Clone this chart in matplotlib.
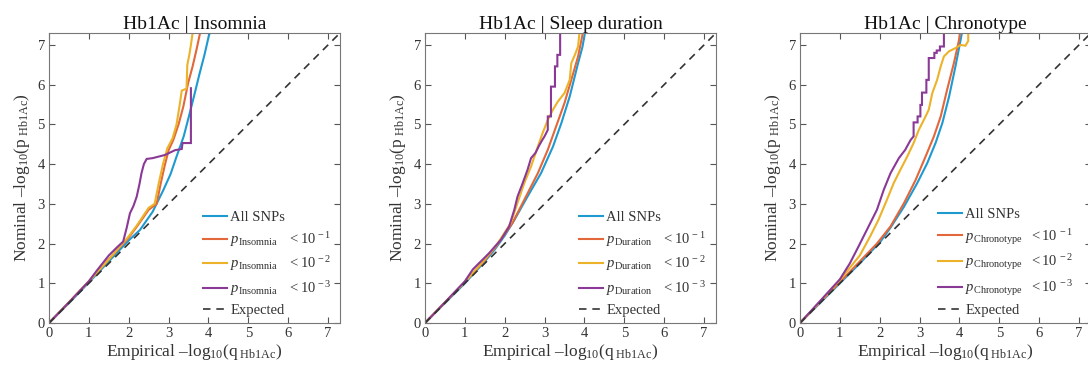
import matplotlib
matplotlib.use("Agg")
import matplotlib.pyplot as plt

plt.rcParams['font.family'] = ['Liberation Serif', 'DejaVu Serif']
plt.rcParams['mathtext.fontset'] = 'custom'
plt.rcParams['mathtext.rm'] = 'Liberation Serif'
plt.rcParams['mathtext.it'] = 'Liberation Serif:italic'
plt.rcParams['mathtext.bf'] = 'Liberation Serif:bold'

# ---------------- data ----------------
titles = ["Hb1Ac | Insomnia", "Hb1Ac | Sleep duration", "Hb1Ac | Chronotype"]
traits = ["Insomnia", "Duration", "Chronotype"]
ticks = [0, 1, 2, 3, 4, 5, 6, 7]
expected = [0, 7.3]

# Panel 1: Insomnia
ins_all_x = [0, 0.5, 1.0, 1.5, 2.0, 2.28, 2.6, 2.87, 3.05, 3.2, 3.38, 3.53, 3.66, 3.78, 3.9, 4.01, 4.05]
ins_all_y = [0, 0.5, 1.02, 1.55, 2.08, 2.34, 2.8, 3.35, 3.75, 4.19, 4.7, 5.28, 5.8, 6.29, 6.75, 7.23, 7.35]
ins_p1_x = [0, 0.5, 1.0, 1.5, 2.0, 2.2, 2.5, 2.7, 2.8, 2.9, 3.0, 3.12, 3.25, 3.37, 3.49, 3.6, 3.7, 3.8]
ins_p1_y = [0, 0.52, 1.05, 1.6, 2.15, 2.42, 2.85, 3.0, 3.5, 3.95, 4.35, 4.61, 5.0, 5.45, 6.04, 6.45, 6.88, 7.35]
ins_p2_x = [0, 0.5, 1.0, 1.5, 2.0, 2.2, 2.5, 2.65, 2.75, 2.86, 2.97, 3.1, 3.2, 3.28, 3.33, 3.45, 3.47, 3.52, 3.56, 3.61]
ins_p2_y = [0, 0.52, 1.05, 1.6, 2.18, 2.45, 2.9, 3.0, 3.5, 4.0, 4.4, 4.65, 5.0, 5.5, 5.85, 5.9, 6.5, 6.75, 7.0, 7.35]
ins_p3_x = [0, 0.5, 1.0, 1.2, 1.5, 1.7, 1.86, 1.95, 2.03, 2.12, 2.2, 2.27, 2.32, 2.38, 2.45, 2.6, 2.91,
            3.16, 3.33, 3.35, 3.56, 3.56]
ins_p3_y = [0, 0.52, 1.05, 1.32, 1.7, 1.9, 2.05, 2.4, 2.76, 2.95, 3.18, 3.5, 3.77, 4.0, 4.13, 4.15, 4.23,
            4.35, 4.38, 4.53, 4.53, 5.91]

# Panel 2: Sleep duration
dur_all_x = [0, 0.5, 1.0, 1.5, 1.75, 2.0, 2.24, 2.57, 2.91, 3.21, 3.42, 3.63, 3.84, 3.95, 4.02]
dur_all_y = [0, 0.5, 1.0, 1.55, 1.85, 2.2, 2.59, 3.18, 3.77, 4.44, 5.03, 5.7, 6.54, 6.95, 7.35]
dur_p1_x = [0, 0.5, 1.0, 1.5, 1.8, 2.19, 2.49, 2.83, 3.08, 3.29, 3.5, 3.67, 3.84, 3.97]
dur_p1_y = [0, 0.52, 1.03, 1.58, 1.95, 2.51, 3.1, 3.77, 4.36, 4.95, 5.54, 6.12, 6.71, 7.35]
dur_p2_x = [0, 1.0, 1.5, 1.8, 2.15, 2.32, 2.49, 2.66, 2.83, 2.95, 3.08, 3.21, 3.33, 3.5, 3.63, 3.67, 3.76,
            3.84, 3.88]
dur_p2_y = [0, 1.03, 1.6, 1.97, 2.51, 3.02, 3.52, 3.94, 4.44, 4.78, 5.11, 5.37, 5.57, 5.79, 6.12, 6.54, 6.75,
            6.96, 7.35]
dur_p3_x = [0, 0.5, 1.0, 1.2, 1.4, 1.6, 1.9, 2.11, 2.24, 2.32, 2.45, 2.57, 2.66, 2.77, 2.87, 2.95, 3.0,
            3.08, 3.08, 3.16, 3.16, 3.26, 3.26, 3.32, 3.32, 3.39, 3.39]
dur_p3_y = [0, 0.52, 1.05, 1.35, 1.55, 1.75, 2.09, 2.43, 2.85, 3.18, 3.52, 3.85, 4.15, 4.28, 4.48, 4.62, 4.7,
            4.86, 5.2, 5.2, 5.95, 5.95, 6.46, 6.46, 6.75, 6.75, 7.35]

# Panel 3: Chronotype
chr_all_x = [0, 0.5, 1.0, 1.5, 2.02, 2.27, 2.61, 2.94, 3.19, 3.4, 3.57, 3.74, 3.9, 4.03, 4.07]
chr_all_y = [0, 0.5, 1.0, 1.5, 2.05, 2.4, 2.93, 3.52, 4.02, 4.53, 5.03, 5.7, 6.46, 7.13, 7.35]
chr_p1_x = [0, 0.5, 1.0, 1.5, 1.93, 2.27, 2.61, 2.9, 3.15, 3.36, 3.53, 3.69, 3.86, 3.99, 4.02]
chr_p1_y = [0, 0.52, 1.03, 1.55, 2.0, 2.43, 3.02, 3.6, 4.19, 4.7, 5.2, 5.87, 6.54, 7.13, 7.35]
chr_p2_x = [0, 0.5, 1.0, 1.5, 1.76, 1.97, 2.18, 2.35, 2.52, 2.69, 2.85, 2.98, 3.15, 3.23, 3.32, 3.44, 3.53,
            3.61, 3.74, 3.9, 4.03, 4.15, 4.22, 4.22]
chr_p2_y = [0, 0.53, 1.08, 1.7, 2.18, 2.6, 3.1, 3.52, 3.86, 4.19, 4.53, 4.86, 5.2, 5.37, 5.79, 6.12, 6.46,
            6.71, 6.84, 6.92, 7.0, 6.98, 7.1, 7.35]
chr_p3_x = [0, 0.5, 1.0, 1.25, 1.47, 1.72, 1.93, 2.1, 2.27, 2.48, 2.64, 2.77, 2.85, 2.85, 2.95, 2.95, 3.02,
            3.02, 3.06, 3.06, 3.17, 3.17, 3.23, 3.23, 3.37, 3.37, 3.43, 3.43, 3.51, 3.51, 3.61, 3.61]
chr_p3_y = [0, 0.55, 1.1, 1.5, 1.93, 2.43, 2.85, 3.35, 3.77, 4.15, 4.36, 4.6, 4.7, 5.05, 5.05, 5.2, 5.2,
            5.49, 5.49, 5.8, 5.8, 6.12, 6.12, 6.67, 6.67, 6.8, 6.8, 6.86, 6.86, 6.96, 6.96, 7.35]

# ---------------- style ----------------
colors = ['#1f9ad0', '#e2673a', '#ecb22a', '#8a3996']
dark = '#333333'

panels = [
    [(ins_all_x, ins_all_y), (ins_p1_x, ins_p1_y), (ins_p2_x, ins_p2_y), (ins_p3_x, ins_p3_y)],
    [(dur_all_x, dur_all_y), (dur_p1_x, dur_p1_y), (dur_p2_x, dur_p2_y), (dur_p3_x, dur_p3_y)],
    [(chr_all_x, chr_all_y), (chr_p1_x, chr_p1_y), (chr_p2_x, chr_p2_y), (chr_p3_x, chr_p3_y)],
]

fig = plt.figure(figsize=(10.88, 3.69), dpi=100)
lefts = [49, 425, 800]
leg_x = [0.5, 0.5, 0.445]
gaps = ['   ', '   ', '  ']
W, H = 1088, 369
for i in range(3):
    ax = fig.add_axes([lefts[i] / W, (H - 323) / H, 291 / W, 290 / H])
    curves = panels[i]
    labels = ['All SNPs'] + [
        r'$p_{\mathrm{%s}}$%s$< 10^{\,-%d}$' % (traits[i], gaps[i], k) for k in (1, 2, 3)
    ]
    for (cx, cy), col, lab in zip(curves, colors, labels):
        ax.plot(cx, cy, color=col, lw=1.5, label=lab, solid_joinstyle='miter')
    ax.plot(expected, expected, ls=(0, (4.5, 3.5)), color=dark, lw=1.2, label='Expected')
    ax.set_xlim(0, 7.3)
    ax.set_ylim(0, 7.3)
    ax.set_xticks(ticks)
    ax.set_yticks(ticks)
    ax.tick_params(direction='in', top=True, right=True, length=4, width=0.8,
                   colors='#555555', labelcolor=dark, labelsize=10.5, pad=3)
    for s in ax.spines.values():
        s.set_color('#777777')
        s.set_linewidth(0.8)
    ax.set_title(titles[i], fontsize=14, color='#111111', pad=3)
    ax.set_xlabel(r'Empirical –log$_{10}$(q$_{\ \mathrm{Hb1Ac}}$)', fontsize=12.5, color=dark, labelpad=1)
    ax.set_ylabel(r'Nominal –log$_{10}$(p$_{\ \mathrm{Hb1Ac}}$)', fontsize=12.5, color=dark, labelpad=4)
    leg = ax.legend(loc='lower left', bbox_to_anchor=(leg_x[i], -0.01), frameon=False, fontsize=10.5,
                    handlelength=1.6, handletextpad=0.25, labelspacing=0.4, borderaxespad=0.2)
    for t in leg.get_texts():
        t.set_color(dark)

fig.savefig('out.png', dpi=100, facecolor='white')
